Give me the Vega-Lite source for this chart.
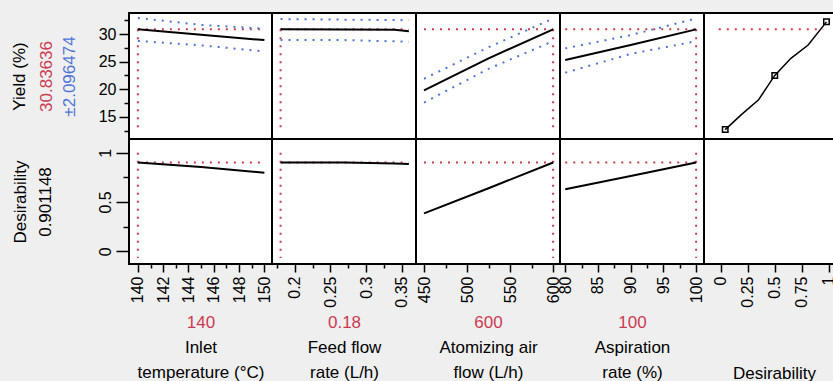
{
"$schema":"https://vega.github.io/schema/vega-lite/v6.json",
"background":"#efefef",
"padding":{"left":9,"top":12,"right":0,"bottom":0},
"columns":5,"spacing":0,"bounds":"flush",
"config":{"view":{"fill":"white","stroke":"black","strokeWidth":2},
 "font":"Liberation Sans",
 "axis":{"labelFont":"Liberation Sans","labelFontSize":16,"labelColor":"black","titleFont":"Liberation Sans","titleFontSize":17,"titleFontWeight":"normal","titleColor":"black","tickColor":"black","tickWidth":1.5,"domain":false,"grid":false,"labelFlush":false,"labelOverlap":false}},
"datasets":{"curves":[
{"p":"temp","r":"Y","s":"pred","x":140,"y":30.84},{"p":"temp","r":"Y","s":"pred","x":145,"y":29.85},{"p":"temp","r":"Y","s":"pred","x":150,"y":28.9},
{"p":"temp","r":"Y","s":"up","x":140,"y":32.9},{"p":"temp","r":"Y","s":"up","x":145,"y":31.65},{"p":"temp","r":"Y","s":"up","x":150,"y":30.95},
{"p":"temp","r":"Y","s":"lo","x":140,"y":28.75},{"p":"temp","r":"Y","s":"lo","x":145,"y":27.95},{"p":"temp","r":"Y","s":"lo","x":150,"y":26.85},
{"p":"temp","r":"Y","s":"h","x":140,"y":30.84},{"p":"temp","r":"Y","s":"h","x":150,"y":30.84},
{"p":"temp","r":"Y","s":"v","x":140,"y":30.84},{"p":"temp","r":"Y","s":"v","x":140,"y":12.2},
{"p":"feed","r":"Y","s":"pred","x":0.18,"y":30.84},{"p":"feed","r":"Y","s":"pred","x":0.27,"y":30.82},{"p":"feed","r":"Y","s":"pred","x":0.34,"y":30.78},{"p":"feed","r":"Y","s":"pred","x":0.36,"y":30.5},
{"p":"feed","r":"Y","s":"up","x":0.18,"y":32.7},{"p":"feed","r":"Y","s":"up","x":0.27,"y":32.6},{"p":"feed","r":"Y","s":"up","x":0.36,"y":32.5},
{"p":"feed","r":"Y","s":"lo","x":0.18,"y":28.9},{"p":"feed","r":"Y","s":"lo","x":0.27,"y":28.9},{"p":"feed","r":"Y","s":"lo","x":0.36,"y":28.6},
{"p":"feed","r":"Y","s":"h","x":0.18,"y":30.84},{"p":"feed","r":"Y","s":"h","x":0.36,"y":30.84},
{"p":"feed","r":"Y","s":"v","x":0.18,"y":30.84},{"p":"feed","r":"Y","s":"v","x":0.18,"y":12.2},
{"p":"air","r":"Y","s":"pred","x":450,"y":19.8},{"p":"air","r":"Y","s":"pred","x":525,"y":25.6},{"p":"air","r":"Y","s":"pred","x":600,"y":30.84},
{"p":"air","r":"Y","s":"up","x":450,"y":21.9},{"p":"air","r":"Y","s":"up","x":525,"y":27.6},{"p":"air","r":"Y","s":"up","x":600,"y":32.8},
{"p":"air","r":"Y","s":"lo","x":450,"y":17.6},{"p":"air","r":"Y","s":"lo","x":525,"y":23.7},{"p":"air","r":"Y","s":"lo","x":600,"y":28.7},
{"p":"air","r":"Y","s":"h","x":450,"y":30.84},{"p":"air","r":"Y","s":"h","x":600,"y":30.84},
{"p":"air","r":"Y","s":"v","x":600,"y":30.84},{"p":"air","r":"Y","s":"v","x":600,"y":12.2},
{"p":"asp","r":"Y","s":"pred","x":80,"y":25.3},{"p":"asp","r":"Y","s":"pred","x":90,"y":28.0},{"p":"asp","r":"Y","s":"pred","x":100,"y":30.84},
{"p":"asp","r":"Y","s":"up","x":80,"y":27.4},{"p":"asp","r":"Y","s":"up","x":90,"y":29.8},{"p":"asp","r":"Y","s":"up","x":100,"y":32.8},
{"p":"asp","r":"Y","s":"lo","x":80,"y":23.0},{"p":"asp","r":"Y","s":"lo","x":90,"y":26.4},{"p":"asp","r":"Y","s":"lo","x":100,"y":28.7},
{"p":"asp","r":"Y","s":"h","x":80,"y":30.84},{"p":"asp","r":"Y","s":"h","x":100,"y":30.84},
{"p":"asp","r":"Y","s":"v","x":100,"y":30.84},{"p":"asp","r":"Y","s":"v","x":100,"y":12.2},
{"p":"des","r":"Y","s":"pred","x":0.04,"y":12.7},{"p":"des","r":"Y","s":"pred","x":0.19,"y":15.4},{"p":"des","r":"Y","s":"pred","x":0.35,"y":18.1},{"p":"des","r":"Y","s":"pred","x":0.5,"y":22.5},{"p":"des","r":"Y","s":"pred","x":0.65,"y":25.6},{"p":"des","r":"Y","s":"pred","x":0.81,"y":28.0},{"p":"des","r":"Y","s":"pred","x":0.98,"y":32.2},
{"p":"des","r":"Y","s":"h","x":-0.02,"y":30.84},{"p":"des","r":"Y","s":"h","x":0.95,"y":30.84},
{"p":"des","r":"Y","s":"mk","x":0.04,"y":12.7},{"p":"des","r":"Y","s":"mk","x":0.5,"y":22.5},{"p":"des","r":"Y","s":"mk","x":0.98,"y":32.2},
{"p":"temp","r":"D","s":"pred","x":140,"y":0.901},{"p":"temp","r":"D","s":"pred","x":145,"y":0.855},{"p":"temp","r":"D","s":"pred","x":150,"y":0.798},
{"p":"temp","r":"D","s":"h","x":140,"y":0.901},{"p":"temp","r":"D","s":"h","x":150,"y":0.901},
{"p":"temp","r":"D","s":"v","x":140,"y":1.0},{"p":"temp","r":"D","s":"v","x":140,"y":-0.07},
{"p":"feed","r":"D","s":"pred","x":0.18,"y":0.901},{"p":"feed","r":"D","s":"pred","x":0.27,"y":0.9},{"p":"feed","r":"D","s":"pred","x":0.34,"y":0.892},{"p":"feed","r":"D","s":"pred","x":0.36,"y":0.885},
{"p":"feed","r":"D","s":"h","x":0.18,"y":0.901},{"p":"feed","r":"D","s":"h","x":0.36,"y":0.901},
{"p":"feed","r":"D","s":"v","x":0.18,"y":1.0},{"p":"feed","r":"D","s":"v","x":0.18,"y":-0.07},
{"p":"air","r":"D","s":"pred","x":450,"y":0.385},{"p":"air","r":"D","s":"pred","x":525,"y":0.64},{"p":"air","r":"D","s":"pred","x":600,"y":0.901},
{"p":"air","r":"D","s":"h","x":450,"y":0.901},{"p":"air","r":"D","s":"h","x":600,"y":0.901},
{"p":"air","r":"D","s":"v","x":600,"y":1.0},{"p":"air","r":"D","s":"v","x":600,"y":-0.07},
{"p":"asp","r":"D","s":"pred","x":80,"y":0.63},{"p":"asp","r":"D","s":"pred","x":90,"y":0.765},{"p":"asp","r":"D","s":"pred","x":100,"y":0.901},
{"p":"asp","r":"D","s":"h","x":80,"y":0.901},{"p":"asp","r":"D","s":"h","x":100,"y":0.901},
{"p":"asp","r":"D","s":"v","x":100,"y":1.0},{"p":"asp","r":"D","s":"v","x":100,"y":-0.07}
]},
"concat":[
{"width":143,"height":126,"data":{"name":"curves"},"transform":[{"filter":"datum.p=='temp'&&datum.r=='Y'"}],
 "layer":[
  {"transform":[{"filter":"datum.s=='h'||datum.s=='v'"}],"mark":{"type":"line","color":"#cc3a52","strokeWidth":2,"strokeDash":[2,6]},
   "encoding":{"x":{"field":"x","type":"quantitative","scale":{"domain":[139.3,150.6],"nice":false,"zero":false},"axis":null},
    "y":{"field":"y","type":"quantitative","scale":{"domain":[11,33.8],"nice":false,"zero":false},"axis":{"orient":"left","ticks":false,"labels":false,"domain":false,"title":"30.83636","titleColor":"#cc3a52","titleX":-83,"titleBaseline":"middle"}},
    "detail":{"field":"s"}}},
  {"transform":[{"filter":"datum.s=='up'||datum.s=='lo'"}],"mark":{"type":"line","color":"#4f74d8","strokeWidth":2,"strokeDash":[2,6]},
   "encoding":{"x":{"field":"x","type":"quantitative","scale":{"domain":[139.3,150.6],"nice":false,"zero":false},"axis":null},
    "y":{"field":"y","type":"quantitative","scale":{"domain":[11,33.8],"nice":false,"zero":false},"axis":{"orient":"left","values":[12.5,17.5,22.5,27.5,32.5],"tickSize":5,"labels":false,"domain":false,"title":"±2.096474","titleColor":"#4f74d8","titleX":-60,"titleBaseline":"middle"}},
    "detail":{"field":"s"}}},
  {"transform":[{"filter":"datum.s=='pred'"}],"mark":{"type":"line","color":"black","strokeWidth":2},
   "encoding":{"x":{"field":"x","type":"quantitative","scale":{"domain":[139.3,150.6],"nice":false,"zero":false},"axis":null},
    "y":{"field":"y","type":"quantitative","scale":{"domain":[11,33.8],"nice":false,"zero":false},"axis":{"orient":"left","values":[15,20,25,30],"format":"d","tickSize":10,"labelPadding":3,"title":"Yield (%)","titleX":-110,"titleBaseline":"middle"}}}}
 ],
 "resolve":{"axis":{"y":"independent"}}},
{"width":144,"height":126,"data":{"name":"curves"},"transform":[{"filter":"datum.p=='feed'&&datum.r=='Y'"}],
 "layer":[
  {"transform":[{"filter":"datum.s=='h'||datum.s=='v'"}],"mark":{"type":"line","color":"#cc3a52","strokeWidth":2,"strokeDash":[2,6]},
   "encoding":{"x":{"field":"x","type":"quantitative","scale":{"domain":[0.168,0.37],"nice":false,"zero":false},"axis":null},
    "y":{"field":"y","type":"quantitative","scale":{"domain":[11,33.8],"nice":false,"zero":false},"axis":null},"detail":{"field":"s"}}},
  {"transform":[{"filter":"datum.s=='up'||datum.s=='lo'"}],"mark":{"type":"line","color":"#4f74d8","strokeWidth":2,"strokeDash":[2,6]},
   "encoding":{"x":{"field":"x","type":"quantitative","scale":{"domain":[0.168,0.37],"nice":false,"zero":false},"axis":null},
    "y":{"field":"y","type":"quantitative","scale":{"domain":[11,33.8],"nice":false,"zero":false},"axis":null},"detail":{"field":"s"}}},
  {"transform":[{"filter":"datum.s=='pred'"}],"mark":{"type":"line","color":"black","strokeWidth":2},
   "encoding":{"x":{"field":"x","type":"quantitative","scale":{"domain":[0.168,0.37],"nice":false,"zero":false},"axis":null},
    "y":{"field":"y","type":"quantitative","scale":{"domain":[11,33.8],"nice":false,"zero":false},"axis":null}}}
 ]},
{"width":144,"height":126,"data":{"name":"curves"},"transform":[{"filter":"datum.p=='air'&&datum.r=='Y'"}],
 "layer":[
  {"transform":[{"filter":"datum.s=='h'||datum.s=='v'"}],"mark":{"type":"line","color":"#cc3a52","strokeWidth":2,"strokeDash":[2,6]},
   "encoding":{"x":{"field":"x","type":"quantitative","scale":{"domain":[440.7,608],"nice":false,"zero":false},"axis":null},
    "y":{"field":"y","type":"quantitative","scale":{"domain":[11,33.8],"nice":false,"zero":false},"axis":null},"detail":{"field":"s"}}},
  {"transform":[{"filter":"datum.s=='up'||datum.s=='lo'"}],"mark":{"type":"line","color":"#4f74d8","strokeWidth":2,"strokeDash":[2,6]},
   "encoding":{"x":{"field":"x","type":"quantitative","scale":{"domain":[440.7,608],"nice":false,"zero":false},"axis":null},
    "y":{"field":"y","type":"quantitative","scale":{"domain":[11,33.8],"nice":false,"zero":false},"axis":null},"detail":{"field":"s"}}},
  {"transform":[{"filter":"datum.s=='pred'"}],"mark":{"type":"line","color":"black","strokeWidth":2},
   "encoding":{"x":{"field":"x","type":"quantitative","scale":{"domain":[440.7,608],"nice":false,"zero":false},"axis":null},
    "y":{"field":"y","type":"quantitative","scale":{"domain":[11,33.8],"nice":false,"zero":false},"axis":null}}}
 ]},
{"width":144,"height":126,"data":{"name":"curves"},"transform":[{"filter":"datum.p=='asp'&&datum.r=='Y'"}],
 "layer":[
  {"transform":[{"filter":"datum.s=='h'||datum.s=='v'"}],"mark":{"type":"line","color":"#cc3a52","strokeWidth":2,"strokeDash":[2,6]},
   "encoding":{"x":{"field":"x","type":"quantitative","scale":{"domain":[79.2,101.2],"nice":false,"zero":false},"axis":null},
    "y":{"field":"y","type":"quantitative","scale":{"domain":[11,33.8],"nice":false,"zero":false},"axis":null},"detail":{"field":"s"}}},
  {"transform":[{"filter":"datum.s=='up'||datum.s=='lo'"}],"mark":{"type":"line","color":"#4f74d8","strokeWidth":2,"strokeDash":[2,6]},
   "encoding":{"x":{"field":"x","type":"quantitative","scale":{"domain":[79.2,101.2],"nice":false,"zero":false},"axis":null},
    "y":{"field":"y","type":"quantitative","scale":{"domain":[11,33.8],"nice":false,"zero":false},"axis":null},"detail":{"field":"s"}}},
  {"transform":[{"filter":"datum.s=='pred'"}],"mark":{"type":"line","color":"black","strokeWidth":2},
   "encoding":{"x":{"field":"x","type":"quantitative","scale":{"domain":[79.2,101.2],"nice":false,"zero":false},"axis":null},
    "y":{"field":"y","type":"quantitative","scale":{"domain":[11,33.8],"nice":false,"zero":false},"axis":null}}}
 ]},
{"width":130,"height":126,"data":{"name":"curves"},"transform":[{"filter":"datum.p=='des'&&datum.r=='Y'"}],
 "layer":[
  {"transform":[{"filter":"datum.s=='h'"}],"mark":{"type":"line","color":"#cc3a52","strokeWidth":2,"strokeDash":[2,6]},
   "encoding":{"x":{"field":"x","type":"quantitative","scale":{"domain":[-0.157,1.05],"nice":false,"zero":false},"axis":null},
    "y":{"field":"y","type":"quantitative","scale":{"domain":[11,33.8],"nice":false,"zero":false},"axis":null}}},
  {"transform":[{"filter":"datum.s=='pred'"}],"mark":{"type":"line","color":"black","strokeWidth":1.5},
   "encoding":{"x":{"field":"x","type":"quantitative","scale":{"domain":[-0.157,1.05],"nice":false,"zero":false},"axis":null},
    "y":{"field":"y","type":"quantitative","scale":{"domain":[11,33.8],"nice":false,"zero":false},"axis":null}}},
  {"transform":[{"filter":"datum.s=='mk'"}],"mark":{"type":"point","shape":"square","filled":false,"color":"black","size":30,"strokeWidth":1.5,"opacity":1},
   "encoding":{"x":{"field":"x","type":"quantitative","scale":{"domain":[-0.157,1.05],"nice":false,"zero":false},"axis":null},
    "y":{"field":"y","type":"quantitative","scale":{"domain":[11,33.8],"nice":false,"zero":false},"axis":null}}}
 ]},
{"width":143,"height":125,"data":{"name":"curves"},"transform":[{"filter":"datum.p=='temp'&&datum.r=='D'"}],
 "layer":[
  {"transform":[{"filter":"datum.s=='h'||datum.s=='v'"}],"mark":{"type":"line","color":"#cc3a52","strokeWidth":2,"strokeDash":[2,6]},
   "encoding":{"x":{"field":"x","type":"quantitative","scale":{"domain":[139.3,150.6],"nice":false,"zero":false},"axis":{"orient":"bottom","values":[141,143,145,147,149],"tickSize":4,"labels":false,"domain":false,"title":["Inlet","temperature (°C)"],"titleY":83,"titleBaseline":"middle","titleLineHeight":25}},
    "y":{"field":"y","type":"quantitative","scale":{"domain":[-0.13,1.14],"nice":false,"zero":false},"axis":{"orient":"left","values":[0.25,0.75],"tickSize":6,"labels":false,"domain":false,"title":"0.901148","titleX":-84,"titleBaseline":"middle"}},
    "detail":{"field":"s"}}},
  {"transform":[{"filter":"datum.s=='pred'"}],"mark":{"type":"line","color":"black","strokeWidth":2},
   "encoding":{"x":{"field":"x","type":"quantitative","scale":{"domain":[139.3,150.6],"nice":false,"zero":false},"axis":{"orient":"bottom","values":[140,142,144,146,148,150],"format":"d","labelAngle":270,"tickSize":8,"labelPadding":4,"title":"140","titleColor":"#cc3a52","titleY":58,"titleBaseline":"middle"}},
    "y":{"field":"y","type":"quantitative","scale":{"domain":[-0.13,1.14],"nice":false,"zero":false},"axis":{"orient":"left","values":[0,0.5,1],"format":".1~f","labelAngle":270,"tickSize":13,"labelPadding":3,"title":"Desirability","titleX":-109,"titleBaseline":"middle"}}}}
 ],
 "resolve":{"axis":{"x":"independent","y":"independent"}}},
{"width":144,"height":125,"data":{"name":"curves"},"transform":[{"filter":"datum.p=='feed'&&datum.r=='D'"}],
 "layer":[
  {"transform":[{"filter":"datum.s=='h'||datum.s=='v'"}],"mark":{"type":"line","color":"#cc3a52","strokeWidth":2,"strokeDash":[2,6]},
   "encoding":{"x":{"field":"x","type":"quantitative","scale":{"domain":[0.168,0.37],"nice":false,"zero":false},"axis":{"orient":"bottom","values":[0.175,0.225,0.275,0.325],"tickSize":4,"labels":false,"domain":false,"title":["Feed flow","rate (L/h)"],"titleY":83,"titleBaseline":"middle","titleLineHeight":25}},
    "y":{"field":"y","type":"quantitative","scale":{"domain":[-0.13,1.14],"nice":false,"zero":false},"axis":null},"detail":{"field":"s"}}},
  {"transform":[{"filter":"datum.s=='pred'"}],"mark":{"type":"line","color":"black","strokeWidth":2},
   "encoding":{"x":{"field":"x","type":"quantitative","scale":{"domain":[0.168,0.37],"nice":false,"zero":false},"axis":{"orient":"bottom","values":[0.2,0.25,0.3,0.35],"format":".2~f","labelAngle":270,"tickSize":8,"labelPadding":4,"title":"0.18","titleColor":"#cc3a52","titleY":58,"titleBaseline":"middle"}},
    "y":{"field":"y","type":"quantitative","scale":{"domain":[-0.13,1.14],"nice":false,"zero":false},"axis":null}}}
 ],
 "resolve":{"axis":{"x":"independent"}}},
{"width":144,"height":125,"data":{"name":"curves"},"transform":[{"filter":"datum.p=='air'&&datum.r=='D'"}],
 "layer":[
  {"transform":[{"filter":"datum.s=='h'||datum.s=='v'"}],"mark":{"type":"line","color":"#cc3a52","strokeWidth":2,"strokeDash":[2,6]},
   "encoding":{"x":{"field":"x","type":"quantitative","scale":{"domain":[440.7,608],"nice":false,"zero":false},"axis":{"orient":"bottom","values":[475,525,575],"tickSize":4,"labels":false,"domain":false,"title":["Atomizing air","flow (L/h)"],"titleY":83,"titleBaseline":"middle","titleLineHeight":25}},
    "y":{"field":"y","type":"quantitative","scale":{"domain":[-0.13,1.14],"nice":false,"zero":false},"axis":null},"detail":{"field":"s"}}},
  {"transform":[{"filter":"datum.s=='pred'"}],"mark":{"type":"line","color":"black","strokeWidth":2},
   "encoding":{"x":{"field":"x","type":"quantitative","scale":{"domain":[440.7,608],"nice":false,"zero":false},"axis":{"orient":"bottom","values":[450,500,550,600],"format":"d","labelAngle":270,"tickSize":8,"labelPadding":4,"title":"600","titleColor":"#cc3a52","titleY":58,"titleBaseline":"middle"}},
    "y":{"field":"y","type":"quantitative","scale":{"domain":[-0.13,1.14],"nice":false,"zero":false},"axis":null}}}
 ],
 "resolve":{"axis":{"x":"independent"}}},
{"width":144,"height":125,"data":{"name":"curves"},"transform":[{"filter":"datum.p=='asp'&&datum.r=='D'"}],
 "layer":[
  {"transform":[{"filter":"datum.s=='h'||datum.s=='v'"}],"mark":{"type":"line","color":"#cc3a52","strokeWidth":2,"strokeDash":[2,6]},
   "encoding":{"x":{"field":"x","type":"quantitative","scale":{"domain":[79.2,101.2],"nice":false,"zero":false},"axis":{"orient":"bottom","values":[82.5,87.5,92.5,97.5],"tickSize":4,"labels":false,"domain":false,"title":["Aspiration","rate (%)"],"titleY":83,"titleBaseline":"middle","titleLineHeight":25}},
    "y":{"field":"y","type":"quantitative","scale":{"domain":[-0.13,1.14],"nice":false,"zero":false},"axis":null},"detail":{"field":"s"}}},
  {"transform":[{"filter":"datum.s=='pred'"}],"mark":{"type":"line","color":"black","strokeWidth":2},
   "encoding":{"x":{"field":"x","type":"quantitative","scale":{"domain":[79.2,101.2],"nice":false,"zero":false},"axis":{"orient":"bottom","values":[80,85,90,95,100],"format":"d","labelAngle":270,"tickSize":8,"labelPadding":4,"title":"100","titleColor":"#cc3a52","titleY":58,"titleBaseline":"middle"}},
    "y":{"field":"y","type":"quantitative","scale":{"domain":[-0.13,1.14],"nice":false,"zero":false},"axis":null}}}
 ],
 "resolve":{"axis":{"x":"independent"}}},
{"width":130,"height":125,"data":{"name":"curves"},"transform":[{"filter":"datum.p=='des'&&datum.r=='D'"}],
 "mark":{"type":"line","color":"black","strokeWidth":2},
 "encoding":{"x":{"field":"x","type":"quantitative","scale":{"domain":[-0.157,1.05],"nice":false,"zero":false},"axis":{"orient":"bottom","values":[0,0.25,0.5,0.75,1],"format":".2~f","labelAngle":270,"tickSize":8,"labelPadding":4,"title":"Desirability","titleX":70,"titleY":109,"titleBaseline":"middle"}},
  "y":{"field":"y","type":"quantitative","scale":{"domain":[-0.13,1.14],"nice":false,"zero":false},"axis":null}}}
]
}
